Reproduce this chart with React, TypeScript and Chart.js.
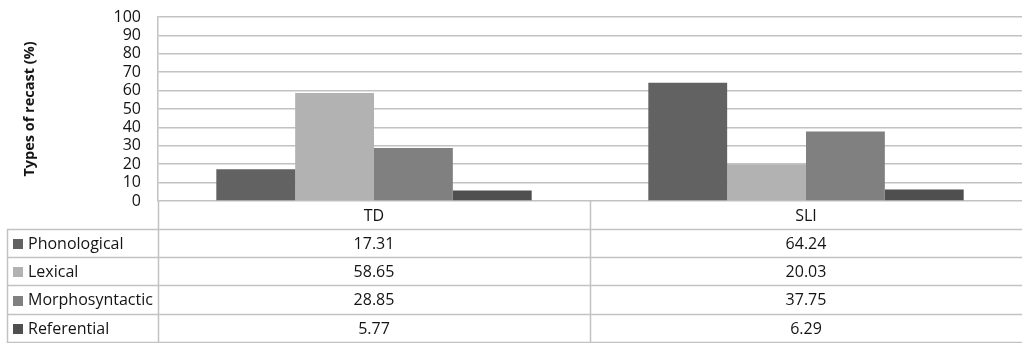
import React, { useEffect, useRef } from "react";
import { Chart, registerables } from "chart.js";

Chart.register(...registerables);

// Groups and recast types (percentages)
const groups = ["TD", "SLI"];
const recastTypes = ["Phonological", "Lexical", "Morphosyntactic", "Referential"];
const phonological = [17.31, 64.24];
const lexical = [58.65, 20.03];
const morphosyntactic = [28.85, 37.75];
const referential = [5.77, 6.29];
const yTicks = [0, 10, 20, 30, 40, 50, 60, 70, 80, 90, 100];

const seriesValues = [phonological, lexical, morphosyntactic, referential];
const seriesColors = ["#626262", "#b2b2b2", "#808080", "#4f4f4f"];

const FONT = "'Open Sans', 'Liberation Sans', sans-serif";
const LINE = "#c2c2c2";
const TEXT = "#141414";

// Data table drawn under the plot area: header row with group names,
// then one row per recast type with a legend key and the values.
const TABLE = {
  headerTop: 201,
  rowTops: [229, 257, 285, 314, 342],
  left: 7,
  keyX: 13,
  keySize: 10,
  labelX: 28,
};

const dataTablePlugin = {
  id: "dataTable",
  afterDraw(chart: any) {
    const { ctx, chartArea, scales } = chart;
    const xs = scales.x;
    const c0 = xs.getPixelForValue(0);
    const c1 = xs.getPixelForValue(1);
    const mid = (c0 + c1) / 2;
    const right = chart.width;
    const bottom = chart.height;
    const t = TABLE;

    ctx.save();
    ctx.strokeStyle = LINE;
    ctx.lineWidth = 1.5;
    ctx.beginPath();
    // vertical dividers
    ctx.moveTo(Math.round(chartArea.left) + 0.5, t.headerTop);
    ctx.lineTo(Math.round(chartArea.left) + 0.5, bottom);
    ctx.moveTo(Math.round(mid) + 0.5, t.headerTop);
    ctx.lineTo(Math.round(mid) + 0.5, bottom);
    ctx.moveTo(t.left + 0.5, t.rowTops[0]);
    ctx.lineTo(t.left + 0.5, bottom);
    // horizontal row lines
    t.rowTops.forEach((y) => {
      ctx.moveTo(t.left, y + 0.5);
      ctx.lineTo(right, y + 0.5);
    });
    ctx.stroke();

    ctx.fillStyle = TEXT;
    ctx.font = `16px ${FONT}`;
    ctx.textBaseline = "middle";
    ctx.textAlign = "center";
    const headerMid = (t.headerTop + t.rowTops[0]) / 2 + 1;
    groups.forEach((g, i) => {
      ctx.fillText(g, xs.getPixelForValue(i), headerMid);
    });

    recastTypes.forEach((name, r) => {
      const top = t.rowTops[r];
      const bot = t.rowTops[r + 1];
      const cy = (top + bot) / 2 + 1;
      ctx.fillStyle = seriesColors[r];
      ctx.fillRect(t.keyX, Math.round(cy - t.keySize / 2), t.keySize, t.keySize);
      ctx.fillStyle = TEXT;
      ctx.textAlign = "left";
      ctx.fillText(name, t.labelX, cy);
      ctx.textAlign = "center";
      seriesValues[r].forEach((v, i) => {
        ctx.fillText(v.toFixed(2), xs.getPixelForValue(i), cy);
      });
    });
    ctx.restore();
  },
};

export default function App() {
  const canvasRef = useRef<HTMLCanvasElement>(null);

  useEffect(() => {
    document.body.style.margin = "0";
    const canvas = canvasRef.current;
    if (!canvas) return;
    const chart = new Chart(canvas, {
      type: "bar",
      data: {
        labels: groups,
        datasets: recastTypes.map((name, i) => ({
          label: name,
          data: seriesValues[i],
          backgroundColor: seriesColors[i],
          borderWidth: 0,
          categoryPercentage: 0.73,
          barPercentage: 1,
        })),
      },
      options: {
        animation: false,
        responsive: false,
        layout: { padding: { left: 0, right: 0, top: 17, bottom: 142 } },
        plugins: {
          legend: { display: false },
          tooltip: { enabled: false },
        },
        scales: {
          x: { display: false },
          y: {
            min: 0,
            max: 100,
            afterFit(scale: any) {
              scale.width = 158;
              scale.paddingTop = 0;
              scale.paddingBottom = 0;
            },
            afterBuildTicks(scale: any) {
              scale.ticks = yTicks.map((v) => ({ value: v }));
            },
            grid: { color: LINE, lineWidth: 1.5, drawTicks: false },
            border: { display: true, color: LINE, width: 1.5 },
            ticks: {
              autoSkip: false,
              padding: 17,
              color: TEXT,
              font: { family: FONT, size: 16 },
            },
            title: {
              display: true,
              text: "Types of recast (%)",
              color: TEXT,
              padding: { top: 21, bottom: 0 },
              font: { family: FONT, size: 14.5, weight: "bold" },
            },
          },
        },
      },
      plugins: [dataTablePlugin],
    });
    return () => chart.destroy();
  }, []);

  return (
    <div style={{ width: 1022, height: 343 }}>
      <canvas ref={canvasRef} width={1022} height={343} />
    </div>
  );
}
